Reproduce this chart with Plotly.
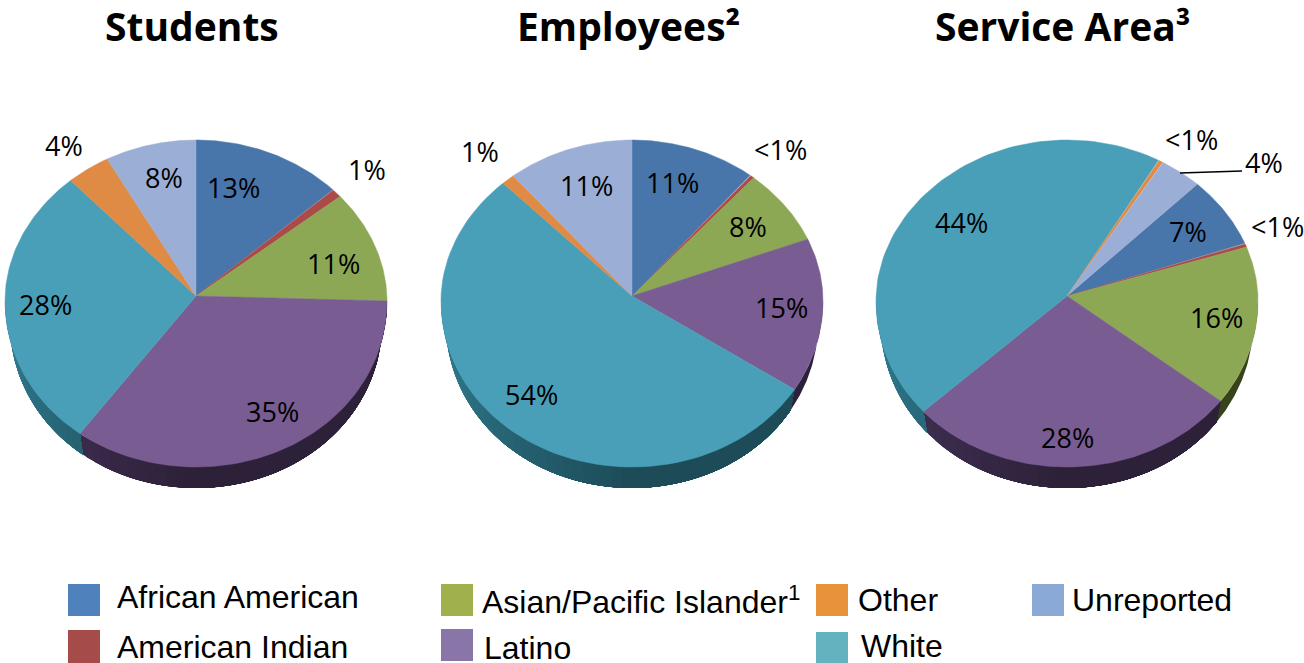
import numpy as np
import plotly.graph_objects as go

# ---- data (percent) ----
categories = ["African American", "American Indian", "Asian/Pacific Islander", "Latino", "White", "Other", "Unreported"]
students = [12.7, 0.9, 11.4, 35.4, 28.2, 3.7, 7.7]
employees = [10.6, 0.4, 7.6, 15.2, 54.4, 1.1, 10.7]
service_area = [7.1, 0.4, 15.7, 28.4, 44.4, 0.4, 3.6]
titles = ["Students", "Employees²", "Service Area³"]

# ---- styles ----
face_colors = ["#4876ab", "#aa4b4a", "#8da855", "#785c92", "#4a9fb8", "#e08b45", "#9bafd6"]
side_colors = [(44, 74, 110), (110, 47, 46), (56, 67, 28), (44, 33, 57), (29, 75, 87), (138, 85, 40), (93, 108, 138)]
legend_colors = ["#4f81bd", "#a54c4a", "#9fb04c", "#8a75a8", "#62b3bf", "#e8933a", "#8aa9d6"]

# pie geometry, in page pixels (the axes below run 1:1 with the page)
centers_x = [196, 632, 1067]
center_y = 296
rx = 191
ry_top = 156
ry_bottom = 171
sag = 5
depth = 21
rotations = [0, 0, 43]  # degrees clockwise from 12 o'clock

# label centres
label_pos = [
    [(233, 187), (367, 169), (333, 263), (272, 411), (45, 304), (64, 145), (164, 177)],
    [(672, 182), (780, 149), (748, 226), (781, 307), (531, 394), (480, 151), (586, 185)],
    [(1188, 231), (1277, 226), (1216, 317), (1067, 437), (961, 222), (1191, 139), (1264, 162)],
]
# swatch left, swatch top, swatch bottom, text left, text middle for each legend row
legend_pos = [
    (68, 584, 616, 115, 597),
    (68, 630, 663, 115, 647),
    (441, 584, 616, 480, 600),
    (441, 629, 661, 482, 648),
    (816, 632, 663, 859, 646),
    (816, 584, 616, 856, 600),
    (1032, 584, 616, 1070, 600),
]


def rim(cx, theta, dy=0, shrink=1.0):
    # the top half of the disc is flatter than the front half (perspective)
    c = np.cos(theta)
    x = cx + rx * shrink * np.sin(theta)
    y = center_y + dy - np.where(c > 0, ry_top, ry_bottom) * c + sag * np.sin(theta) ** 2
    return x, y


def pct_label(v):
    return "<1%" if v < 0.5 else f"{round(v)}%"


def side_shade(rgb, theta):
    # the wall gets lighter towards the left end of the pie
    f = 1 + 0.7 * np.clip((theta - np.pi) / (np.pi / 2), 0, 1)
    return "rgb({},{},{})".format(*[min(255, int(c * f)) for c in rgb])


fig = go.Figure()
for values, cx, rot in zip([students, employees, service_area], centers_x, rotations):
    edges = np.cumsum([0] + values) / sum(values) * 2 * np.pi + np.radians(rot)

    ## side wall first, only the front half shows
    ## each layer runs from the slice start to a stop angle, longest first, so there are no seams
    for i, cat in enumerate(categories):
        a = edges[i] % (2 * np.pi)
        b = a + edges[i + 1] - edges[i]
        a, b = max(a, np.pi / 2), min(b, 3 * np.pi / 2)
        if a >= b:
            continue
        stops = [b]
        if b > np.pi:
            stops += list(np.arange(max(a, np.pi), b, np.radians(3))[::-1])
        for stop in stops:
            if stop <= a:
                continue
            t = np.linspace(a, stop, 60)
            x1, y1 = rim(cx, t)
            x2, y2 = rim(cx, t[::-1], dy=depth, shrink=0.975)
            col = side_shade(side_colors[i], stop)
            fig.add_trace(go.Scatter(x=np.r_[x1, x2], y=np.r_[y1, y2], mode="lines", fill="toself",
                                     fillcolor=col, line=dict(width=0),
                                     hoverinfo="skip", showlegend=False))

    ## top face
    for i, cat in enumerate(categories):
        t = np.linspace(edges[i], edges[i + 1], 80)
        x, y = rim(cx, t)
        fig.add_trace(go.Scatter(x=np.r_[cx, x, cx], y=np.r_[center_y, y, center_y], mode="lines",
                                 fill="toself", fillcolor=face_colors[i],
                                 line=dict(width=0.5, color=face_colors[i]),
                                 name=cat, text=pct_label(values[i]), hoverinfo="name+text",
                                 showlegend=False))

annotations = []

## pie titles
for title, tx in zip(titles, [192, 628, 1063]):
    annotations.append(dict(x=tx, y=25, text=f"<b>{title}</b>", showarrow=False, xanchor="center", yanchor="middle",
                            font=dict(family="Open Sans", size=39, color="#000000")))

## data labels
for values, positions in zip([students, employees, service_area], label_pos):
    for v, (lx, ly) in zip(values, positions):
        annotations.append(dict(x=lx, y=ly, text=pct_label(v), showarrow=False, xanchor="center", yanchor="middle",
                                font=dict(family="Open Sans", size=27, color="#000000")))

## legend
shapes = []
for cat, col, (sx, top, bottom, tx, ty) in zip(categories, legend_colors, legend_pos):
    shapes.append(dict(type="rect", x0=sx, x1=sx + 32, y0=top, y1=bottom, fillcolor=col, line_width=0, layer="above"))
    label = cat + "<sup>1</sup>" if cat.startswith("Asian") else cat
    annotations.append(dict(x=tx, y=ty, text=label, showarrow=False, xanchor="left", yanchor="middle",
                            font=dict(family="Liberation Sans", size=32, color="#000000")))

## leader line for the 4% label
shapes.append(dict(type="line", x0=1180, y0=173, x1=1242, y1=171, line=dict(color="#000000", width=1.5), layer="above"))

fig.update_xaxes(range=[0, 1304], visible=False, fixedrange=True)
fig.update_yaxes(range=[663, 0], visible=False, fixedrange=True)
fig.update_layout(width=1304, height=663, margin=dict(l=0, r=0, t=0, b=0),
                  plot_bgcolor="#ffffff", paper_bgcolor="#ffffff", showlegend=False,
                  annotations=annotations, shapes=shapes)

fig.write_html("out.html", config=dict(displayModeBar=False),
               post_script="document.body.style.margin='0';document.body.style.overflow='hidden';")
